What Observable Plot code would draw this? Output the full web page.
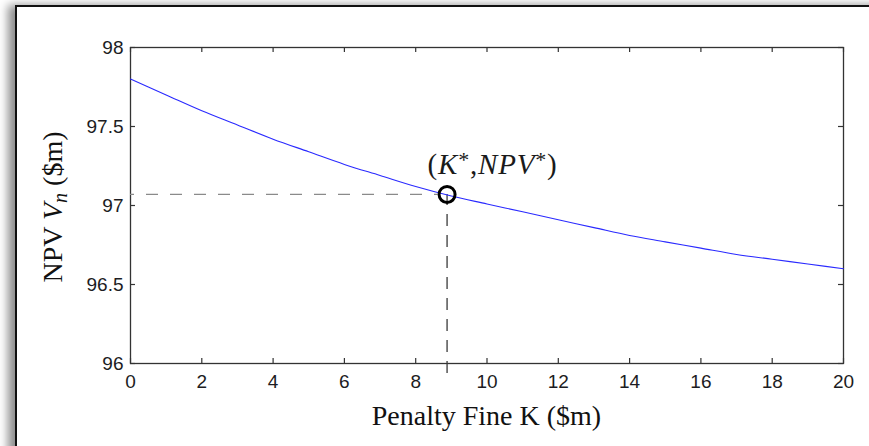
<!DOCTYPE html>
<html>
<head>
<meta charset="utf-8">
<script src="https://cdn.jsdelivr.net/npm/d3@7"></script>
<script src="https://cdn.jsdelivr.net/npm/@observablehq/plot@0.6"></script>
<style>
  html, body { margin: 0; padding: 0; background: #fff; width: 869px; height: 446px; overflow: hidden; }
  #frame { position: absolute; left: 15px; top: 5px; width: 900px; height: 500px;
           border-top: 2px solid #111; border-left: 2px solid #111;
           box-shadow: -7px 0 9px rgba(0,0,0,0.45); background: #fff; }
  #chart { position: absolute; left: 0; top: 0; }
</style>
</head>
<body>
<div id="frame"></div>
<div id="chart"></div>
<script>
// ---- data ----
const kValues   = [0, 1, 2, 3, 4, 5, 6, 7, 8, 9, 10, 11, 12, 13, 14, 15, 16, 17, 18, 19, 20];
const npvValues = [97.80, 97.70, 97.60, 97.51, 97.42, 97.34, 97.26, 97.19, 97.12, 97.06, 97.01,
                   96.96, 96.91, 96.86, 96.81, 96.77, 96.73, 96.69, 96.66, 96.63, 96.60];
const xTicks = [0, 2, 4, 6, 8, 10, 12, 14, 16, 18, 20];
const yTicks = [96, 96.5, 97, 97.5, 98];
const kStar = 8.88;
const npvStar = 97.07;
const xTitle = "Penalty Fine K ($m)";

const W = 869, H = 446;
const mL = 130, mR = 26, mT = 47, mB = 83;
const FW = W - mL - mR, FH = H - mT - mB;
const tickLen = 5;

const curve = kValues.map((k, i) => ({k, v: npvValues[i]}));
const star = [{k: kStar, v: npvStar}];

const plot = Plot.plot({
  width: W, height: H,
  marginLeft: mL, marginRight: mR, marginTop: mT, marginBottom: mB,
  style: {background: "transparent", overflow: "visible", fontFamily: "Liberation Sans", color: "#1c1c22"},
  x: {domain: [0, 20]},
  y: {domain: [96, 98]},
  marks: [
    Plot.axisX(xTicks, {tickSize: 0, tickPadding: 11, fontSize: 19, label: null, tickFormat: d => String(d)}),
    Plot.axisY(yTicks, {tickSize: 0, tickPadding: 7, fontSize: 19, label: null, tickFormat: d => String(d)}),
    // inward MATLAB-style ticks on all four sides
    Plot.tickX(xTicks, {x: d => d, insetTop: FH - tickLen, stroke: "#333", strokeWidth: 1.2}),
    Plot.tickX(xTicks, {x: d => d, insetBottom: FH - tickLen, stroke: "#333", strokeWidth: 1.2}),
    Plot.tickY(yTicks, {y: d => d, insetRight: FW - tickLen, stroke: "#333", strokeWidth: 1.2}),
    Plot.tickY(yTicks, {y: d => d, insetLeft: FW - tickLen, stroke: "#333", strokeWidth: 1.2}),
    Plot.frame({stroke: "#333", strokeWidth: 1.3}),
    // guide lines to the optimum
    Plot.ruleY(star, {y: "v", x1: 0, x2: "k", insetRight: 9, stroke: "#8a8a8a", strokeWidth: 1.3, strokeDasharray: "12,12", strokeDashoffset: 8}),
    Plot.ruleX(star, {x: "k", y1: 96, y2: "v", insetTop: 10, stroke: "#3a3a3a", strokeWidth: 1.3, strokeDasharray: "12,9"}),
    // curve
    Plot.line(curve, {x: "k", y: "v", stroke: "#2a2aff", strokeWidth: 1.1, curve: "monotone-x"}),
    // optimum marker
    Plot.dot(star, {x: "k", y: "v", r: 8, stroke: "#000", strokeWidth: 3, fill: "none"})
  ]
});

document.getElementById("chart").appendChild(plot);

const sx = plot.scale("x"), sy = plot.scale("y");
const svg = d3.select(plot);
const px = sx.apply(kStar), py = sy.apply(npvStar);

// annotation (K*, NPV*)
const anno = svg.append("text")
  .attr("x", px + 46).attr("y", py - 20)
  .attr("text-anchor", "middle")
  .attr("font-family", "Liberation Serif")
  .attr("font-size", 29)
  .attr("letter-spacing", 0.8)
  .attr("fill", "#1a1a1a");
anno.append("tspan").text("(");
anno.append("tspan").attr("font-style", "italic").text("K");
anno.append("tspan").attr("font-size", 22).attr("dy", -7).text("*");
anno.append("tspan").attr("dy", 7).text(",");
anno.append("tspan").attr("font-style", "italic").text("NPV");
anno.append("tspan").attr("font-size", 22).attr("dy", -7).text("*");
anno.append("tspan").attr("dy", 7).text(")");

// x-axis title
svg.append("text")
  .attr("x", mL + FW / 2).attr("y", 425)
  .attr("text-anchor", "middle")
  .attr("font-family", "Liberation Serif")
  .attr("font-size", 28)
  .attr("fill", "#111")
  .text(xTitle);

// y-axis title: NPV V_n ($m)
const yt = svg.append("text")
  .attr("transform", `translate(62,${mT + FH / 2 + 2}) rotate(-90)`)
  .attr("text-anchor", "middle")
  .attr("font-family", "Liberation Serif")
  .attr("font-size", 28)
  .attr("fill", "#111");
yt.append("tspan").text("NPV ");
yt.append("tspan").attr("font-style", "italic").text("V");
yt.append("tspan").attr("font-style", "italic").attr("font-size", 20).attr("dy", 5).text("n");
yt.append("tspan").attr("dy", -5).text(" ($m)");
</script>
</body>
</html>
